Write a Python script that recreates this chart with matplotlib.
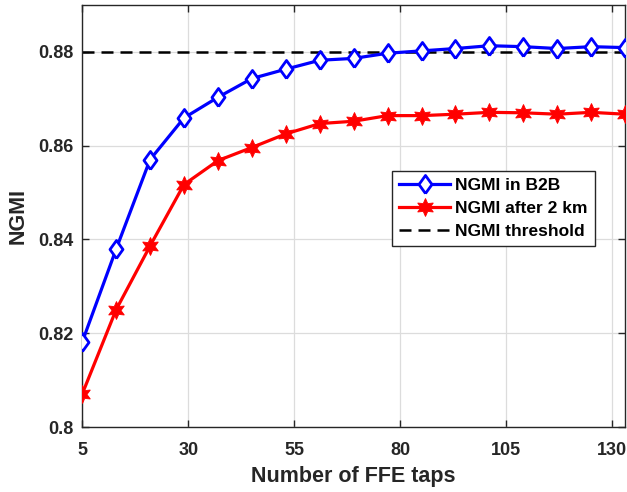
import matplotlib.pyplot as plt
from matplotlib.ticker import FixedLocator

plt.rcParams['font.family'] = ['Liberation Sans', 'DejaVu Sans']
plt.rcParams['font.weight'] = 'bold'

# FFE tap counts and measured NGMI
taps = [5, 13, 21, 29, 37, 45, 53, 61, 69, 77, 85, 93, 101, 109, 117, 125, 133]
ngmi_b2b = [0.8181, 0.8379, 0.8570, 0.8659, 0.8703, 0.8743, 0.8763, 0.8782, 0.8786,
            0.8797, 0.8802, 0.8807, 0.8813, 0.8811, 0.8807, 0.8811, 0.8809]
ngmi_2km = [0.8070, 0.8250, 0.8386, 0.8517, 0.8568, 0.8596, 0.8625, 0.8647, 0.8652,
            0.8664, 0.8664, 0.8667, 0.8671, 0.8670, 0.8667, 0.8671, 0.8667]
threshold = 0.88

x_ticks = [5, 30, 55, 80, 105, 130]
y_ticks = [0.8, 0.82, 0.84, 0.86, 0.88]
y_tick_labels = ['0.8', '0.82', '0.84', '0.86', '0.88']

# slightly narrow diamond, like MATLAB's 'd'
diamond = [(0, -1), (0.72, 0), (0, 1), (-0.72, 0), (0, -1)]

fig = plt.figure(figsize=(6.27, 4.92), dpi=100)
ax = fig.add_axes([0.131, 0.132, 0.866, 0.858])

ax.plot(taps, ngmi_b2b, color='#0000ff', lw=2.3, marker=diamond, markersize=13,
        markerfacecolor='white', markeredgewidth=2, label='NGMI in B2B', zorder=3)
ax.plot(taps, ngmi_2km, color='#ff0000', lw=2.3, marker=(6, 1, 0), markersize=13,
        markerfacecolor='#ff0000', markeredgewidth=0.6, label='NGMI after 2 km', zorder=3)
ax.axhline(threshold, color='black', lw=1.8, ls=(0, (4.8, 2.8)), label='NGMI threshold', zorder=2)

ax.set_xlim(5, 133)
ax.set_ylim(0.8, 0.89)
ax.xaxis.set_major_locator(FixedLocator(x_ticks))
ax.set_yticks(y_ticks)
ax.set_yticklabels(y_tick_labels)
ax.tick_params(direction='in', top=True, right=True, labelsize=13, length=5,
               width=1, color='#262626')
ax.tick_params(axis='x', pad=11)
ax.tick_params(axis='y', pad=6)
for lbl in ax.get_xticklabels() + ax.get_yticklabels():
    lbl.set_fontweight('bold')
    lbl.set_color('#262626')

ax.grid(True, color='#dcdcdc', lw=0.9)
ax.set_axisbelow(True)
for sp in ax.spines.values():
    sp.set_color('#262626')
    sp.set_linewidth(1)

ax.set_xlabel('Number of FFE taps', fontsize=15.5, fontweight='bold', color='#262626', labelpad=5)
ax.set_ylabel('NGMI', fontsize=15.5, fontweight='bold', color='#262626', labelpad=7)

leg = ax.legend(loc='upper left', bbox_to_anchor=(0.571, 0.607), fontsize=12.5,
                frameon=True, fancybox=False, edgecolor='#262626', framealpha=1,
                handlelength=2.9, handletextpad=0.3, borderpad=0.42, labelspacing=0.45,
                borderaxespad=0)
for t in leg.get_texts():
    t.set_fontweight('bold')
leg.get_frame().set_linewidth(1)

fig.savefig('out.png', dpi=100)
